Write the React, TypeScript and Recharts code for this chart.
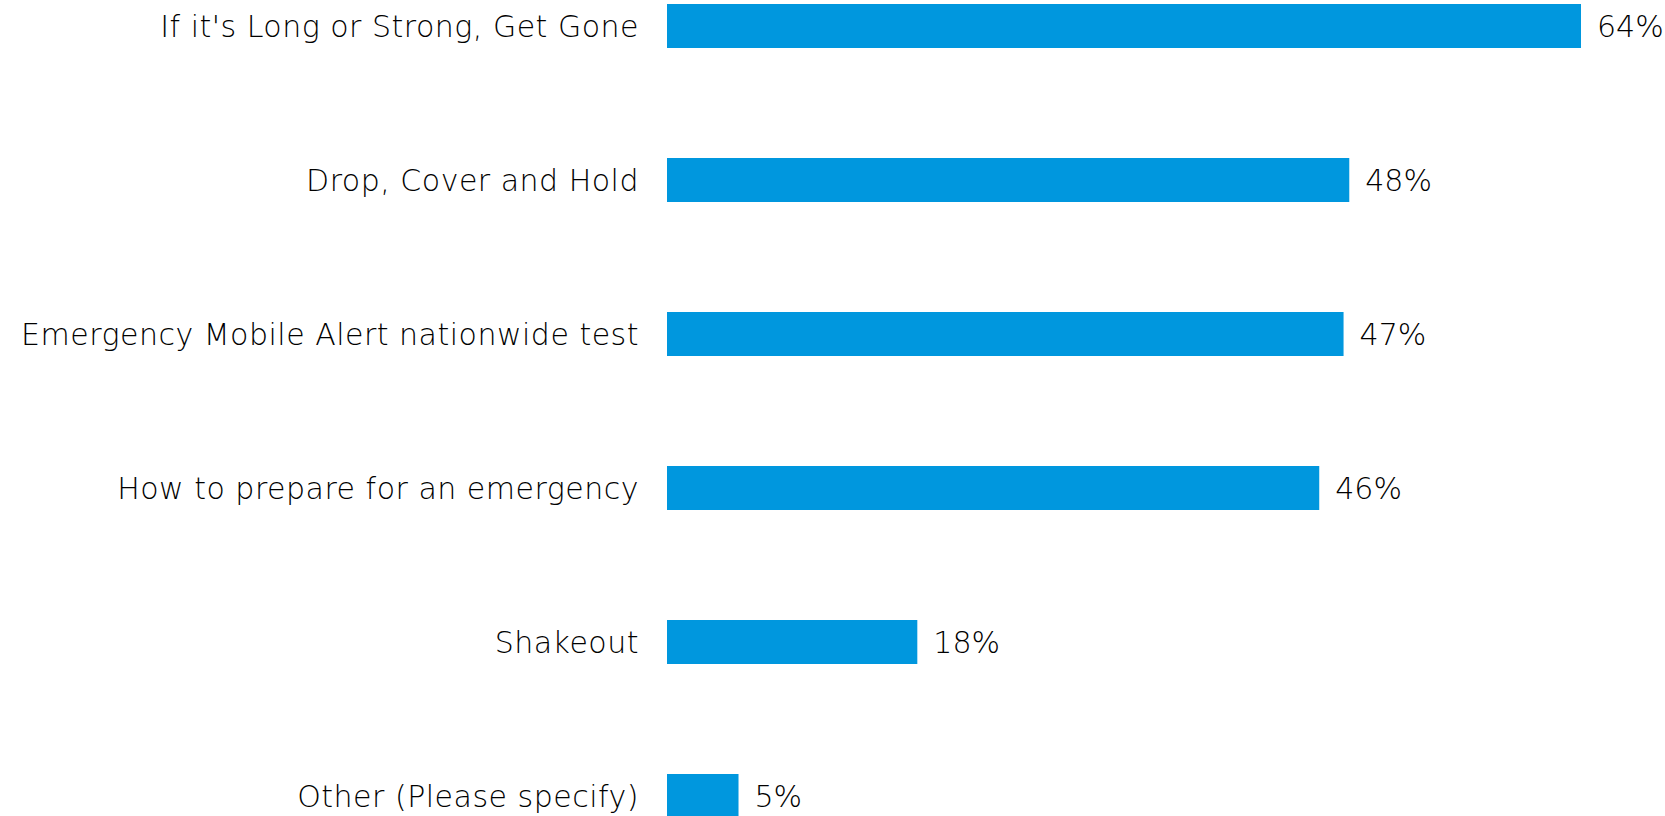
import { BarChart, Bar, XAxis, YAxis, LabelList } from 'recharts';

const categories = [
  "If it's Long or Strong, Get Gone",
  'Drop, Cover and Hold',
  'Emergency Mobile Alert nationwide test',
  'How to prepare for an emergency',
  'Shakeout',
  'Other (Please specify)',
];

const values = [63.9, 47.7, 47.3, 45.6, 17.5, 5.0];

const BAR_COLOR = '#0097de';
const TEXT_COLOR = '#000000';
const FONT = '"DejaVu Sans", sans-serif';

const chartData = categories.map((name, i) => ({ name, value: values[i] }));

const textStyle = {
  fill: TEXT_COLOR,
  fontSize: 30,
  fontWeight: 300,
  fontFamily: FONT,
  letterSpacing: 0.5,
};

const labelStyle = { ...textStyle, letterSpacing: 0 };

export default function App() {
  return (
    <div
      style={{
        position: 'absolute',
        left: 0,
        top: 0,
        width: 1665,
        height: 816,
        overflow: 'hidden',
        background: '#fff',
        fontFamily: FONT,
      }}
    >
      <div style={{ position: 'relative', top: -51 }}>
        <BarChart
          width={1665}
          height={924}
          data={chartData}
          layout="vertical"
          margin={{ top: 0, right: 84, bottom: 0, left: 0 }}
          barCategoryGap={0}
        >
          <XAxis type="number" domain={[0, 63.9]} hide />
          <YAxis
            type="category"
            dataKey="name"
            width={667}
            axisLine={false}
            tickLine={false}
            tickSize={0}
            tickMargin={28}
            interval={0}
            tick={textStyle}
          />
          <Bar dataKey="value" fill={BAR_COLOR} barSize={44} isAnimationActive={false}>
            <LabelList
              dataKey="value"
              position="right"
              offset={16}
              formatter={(v: number) => `${Math.round(v)}%`}
              style={labelStyle}
            />
          </Bar>
        </BarChart>
      </div>
    </div>
  );
}
